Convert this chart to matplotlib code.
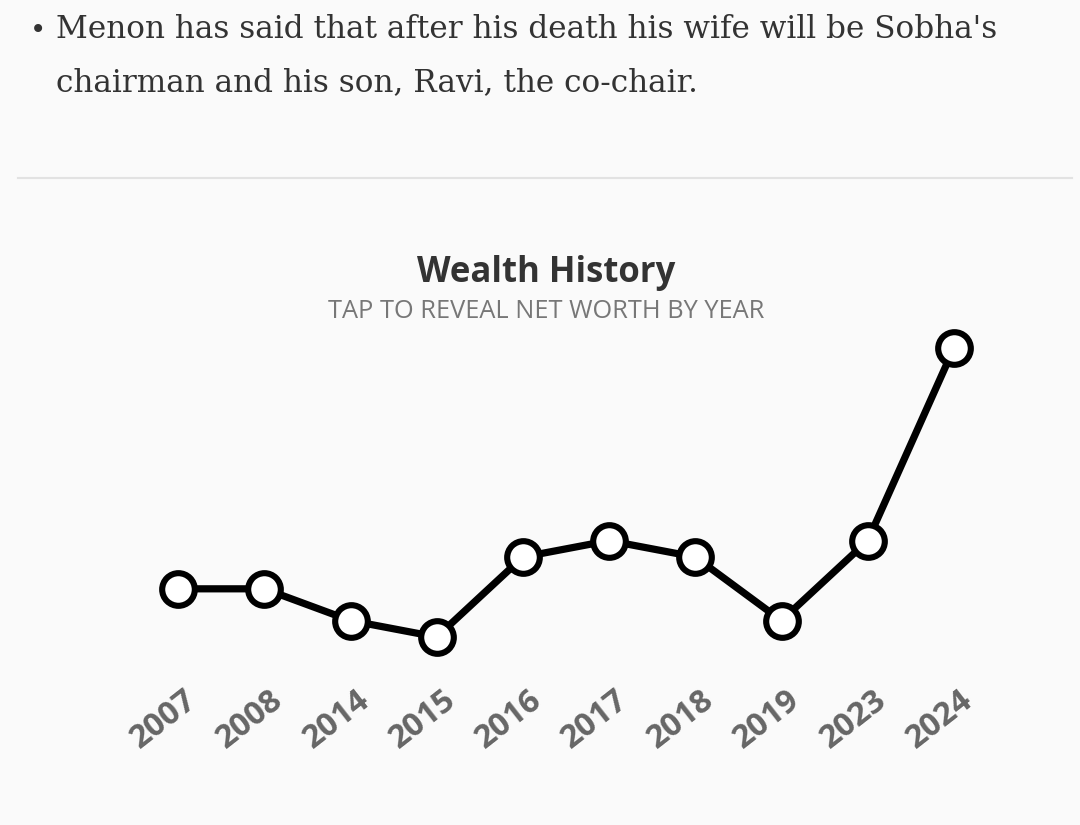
import matplotlib
matplotlib.use("Agg")
import matplotlib.pyplot as plt
import matplotlib.transforms as mtransforms
from matplotlib.lines import Line2D

years = ["2007", "2008", "2014", "2015", "2016", "2017", "2018", "2019", "2023", "2024"]
net_worth = [1.5, 1.5, 1.17, 1.0, 1.83, 2.0, 1.83, 1.17, 2.0, 4.0]

W, H = 1080, 825
BG = "#fafafa"
fig = plt.figure(figsize=(W / 100, H / 100), dpi=100, facecolor=BG)

# Bullet text
fig.text(38 / W, 1 - 30 / H, "\u2022", fontsize=20, color="#333333",
         ha="center", va="center", family="DejaVu Sans")
fig.text(56 / W, 1 - 29 / H,
         "Menon has said that after his death his wife will be Sobha's",
         fontsize=22.4, color="#333333", ha="left", va="center", family="DejaVu Serif")
fig.text(56 / W, 1 - 83 / H, "chairman and his son, Ravi, the co-chair.",
         fontsize=22.4, color="#333333", ha="left", va="center", family="DejaVu Serif")

# Separator line
fig.add_artist(Line2D([18 / W, 1072 / W], [1 - 178 / H, 1 - 178 / H],
                      transform=fig.transFigure, color="#e2e2e2", lw=1.5))

# Title and subtitle
fig.text(546 / W, 1 - 273 / H, "Wealth History", fontsize=25, fontweight="bold",
         color="#333333", ha="center", va="center", family="Open Sans")
fig.text(546 / W, 1 - 312 / H, "TAP TO REVEAL NET WORTH BY YEAR", fontsize=18.3,
         color="#777777", ha="center", va="center", family="Open Sans")

ax = fig.add_axes([135 / W, 1 - 660 / H, 862 / W, 330 / H])
ax.set_facecolor(BG)
x = list(range(len(years)))
ax.plot(x, net_worth, color="black", lw=5.2, solid_joinstyle="miter", zorder=2,
        clip_on=False)
ax.plot(x, net_worth, linestyle="none", marker="o", markersize=23.5,
        markerfacecolor="white", markeredgecolor="black", markeredgewidth=4.4, zorder=3,
        clip_on=False)
ax.set_xlim(-0.5, len(years) - 0.5)
ax.set_ylim(0.761, 4.187)
for s in ax.spines.values():
    s.set_visible(False)
ax.set_yticks([])
ax.set_xticks(x)
ax.set_xticklabels(years, rotation=38, ha="right", rotation_mode="anchor",
                   fontsize=23.5, fontweight="bold", color="#666666", family="Open Sans")
ax.tick_params(axis="x", length=0, pad=17)
offset = mtransforms.ScaledTranslation(5 / 100, 0, fig.dpi_scale_trans)
for lbl in ax.get_xticklabels():
    lbl.set_transform(lbl.get_transform() + offset)

fig.savefig("out.png", dpi=100, facecolor=BG)
